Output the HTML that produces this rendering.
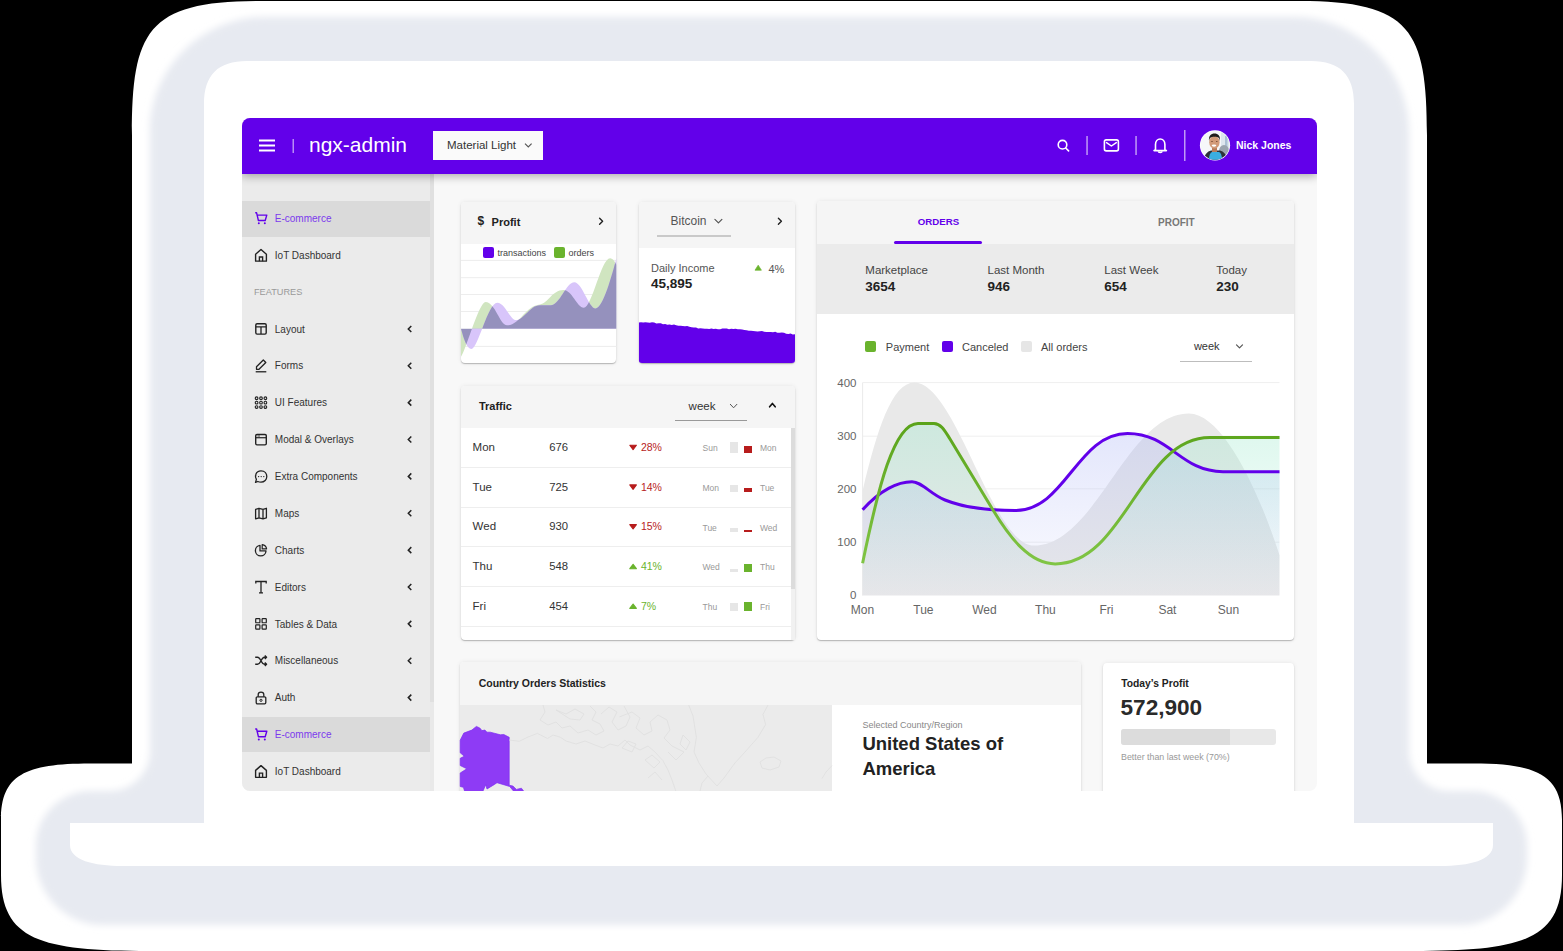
<!DOCTYPE html>
<html><head><meta charset="utf-8">
<style>
html,body{margin:0;padding:0;}
body{width:1563px;height:951px;background:#000;position:relative;overflow:hidden;font-family:"Liberation Sans",sans-serif;}
#frame{position:absolute;left:0;top:0;}
#dash{position:absolute;left:242px;top:118px;width:1075px;height:673px;overflow:hidden;border-radius:8px;background:#f8f8f8;}
#inner{position:absolute;left:-242px;top:-118px;width:1563px;height:951px;}
.t{position:absolute;white-space:nowrap;}
.r{position:absolute;}
</style></head>
<body>
<svg id="frame" width="1563" height="951" viewBox="0 0 1563 951">
  <defs>
    <filter id="blur" x="-10%" y="-10%" width="120%" height="120%"><feGaussianBlur stdDeviation="3.5"/></filter>
  </defs>
  <!-- outer silhouette -->
  <path fill="#fff" d="M132 135 C132 30 148 1 260 1 L1299 1 C1411 1 1427 30 1427 135 L1427 763.5 L1473 763.5 C1538 763.5 1562 775 1562 820 L1562 875 C1562 940 1523 951 1413 951 L150 951 C40 951 1 940 1 875 L1 820 C1 775 25 763.5 90 763.5 L132 763.5 Z"/>
  <!-- glow -->
  <path fill="#e7eaf1" filter="url(#blur)" d="M150 132 C150 68.5 201.5 17 265 17 L1294 17 C1357.5 17 1409 68.5 1409 132 L1409 751 C1409 773.1 1426.9 791 1449 791 L1472 791 C1502.4 791 1527 815.6 1527 846 L1527 858 C1527 895 1497 925 1460 925 L103 925 C66 925 36 895 36 858 L36 846 C36 815.6 60.6 791 91 791 L110 791 C132.1 791 150 773.1 150 751 Z"/>
  <!-- inner bezel -->
  <path fill="#fff" d="M204 104 C204 75 218 61 247 61 L1311 61 C1340 61 1354 75 1354 104 L1354 823 L1493 823 L1493 845 C1493 860 1470 866 1440 866 L123 866 C93 866 70 860 70 845 L70 823 L204 823 Z"/>
</svg>
<div id="dash"><div id="inner">
<div class="r" style="left:242px;top:118px;width:1075.00px;height:56.00px;background:#6200ea;box-shadow:0 2px 9px rgba(0,0,0,.33);z-index:5;"></div>
<svg class="r" style="left:0;top:0;z-index:6" width="1563" height="951"><rect x="259" y="139.5" width="16" height="2" fill="#fff"/><rect x="259" y="144.5" width="16" height="2" fill="#fff"/><rect x="259" y="149.5" width="16" height="2" fill="#fff"/><rect x="292.5" y="139" width="1.5" height="14" fill="rgba(255,255,255,.55)"/><rect x="1086.3" y="136" width="1.5" height="19" fill="rgba(255,255,255,.6)"/><rect x="1135.3" y="136" width="1.5" height="19" fill="rgba(255,255,255,.6)"/><rect x="1184" y="130" width="1.5" height="31" fill="rgba(255,255,255,.6)"/><circle cx="1062.5" cy="144.7" r="4.3" fill="none" stroke="#fff" stroke-width="1.6"/><line x1="1065.7" y1="148" x2="1068.6" y2="150.9" stroke="#fff" stroke-width="1.6" stroke-linecap="round"/><rect x="1104.4" y="139.9" width="14" height="11" rx="1.8" fill="none" stroke="#fff" stroke-width="1.6"/><path d="M1106.5 142.6 L1111.4 146 L1116.3 142.6" fill="none" stroke="#fff" stroke-width="1.5" stroke-linecap="round" stroke-linejoin="round"/><path d="M1155.5 149.5 L1155.5 144.5 C1155.5 141.2 1157.6 139 1160.2 139 C1162.8 139 1164.9 141.2 1164.9 144.5 L1164.9 149.5 L1166.4 150.6 L1154 150.6 Z" fill="none" stroke="#fff" stroke-width="1.6" stroke-linejoin="round"/><path d="M1158.3 151.3 C1158.5 152.8 1161.9 152.8 1162.1 151.3" fill="none" stroke="#fff" stroke-width="1.6"/><circle cx="1215" cy="145.3" r="15.1" fill="#fff"/><clipPath id="av"><circle cx="1215" cy="145.3" r="14.4"/></clipPath><g clip-path="url(#av)"><rect x="1200" y="130" width="30" height="31" fill="#f6f7f9"/><rect x="1221" y="130" width="10" height="31" fill="#dde6ee"/><rect x="1225" y="136" width="2.5" height="12" fill="#a9bfd3"/><ellipse cx="1224" cy="151" rx="5" ry="6" fill="#9aa4ae"/><path d="M1203 162 C1204 155 1207 151.5 1211 150.5 L1220 150.5 C1224 151.5 1227 155 1228 162 Z" fill="#2d3138"/><path d="M1208.5 162 C1209 156 1210 152.5 1212 152 L1219 152 C1221 152.5 1222 156 1222.5 162 Z" fill="#3aaee0"/><rect x="1212" y="146" width="5" height="6" fill="#b77a58"/><ellipse cx="1214.4" cy="142.2" rx="5.2" ry="6.3" fill="#d29a78"/><path d="M1209 141 C1208.6 135.5 1211 133.5 1214.5 133.5 C1218 133.5 1220.4 135.5 1220 141 C1219.5 138 1218.5 136.8 1214.5 136.8 C1210.5 136.8 1209.5 138 1209 141 Z" fill="#1f1c1b"/><ellipse cx="1212" cy="141.5" rx=".8" ry=".5" fill="#6b4330"/><ellipse cx="1216.8" cy="141.5" rx=".8" ry=".5" fill="#6b4330"/><ellipse cx="1214" cy="145.6" rx="2.3" ry="1.1" fill="#fff"/></g></svg>
<div class="t" style="left:309px;top:133.30px;font-size:21px;line-height:23.46px;color:#fff;font-weight:400;z-index:7;">ngx-admin</div>
<div class="r" style="left:433px;top:131px;width:110.00px;height:29.00px;background:#fafafa;z-index:7;"></div>
<div class="t" style="left:447px;top:138.79px;font-size:11.5px;line-height:12.85px;color:#333;font-weight:400;z-index:8;">Material Light</div>
<svg class="r" style="left:0;top:0;z-index:8" width="1563" height="951"><path d="M525 143.6 L528.3 146.9 L531.6 143.6" fill="none" stroke="#555" stroke-width="1.15"/></svg>
<div class="t" style="left:1236px;top:140.10px;font-size:10.5px;line-height:11.73px;color:#fff;font-weight:700;z-index:7;">Nick Jones</div>
<div class="r" style="left:242px;top:174px;width:188.00px;height:617.00px;background:#ebebeb;"></div>
<div class="r" style="left:430px;top:174px;width:4.00px;height:617.00px;background:#e9e9e9;"></div>
<div class="r" style="left:430px;top:174px;width:4.00px;height:528.00px;background:#e0e0e0;"></div>
<div class="r" style="left:242px;top:201px;width:188.00px;height:36.00px;background:#dadada;"></div>
<div class="r" style="left:242px;top:716.6px;width:188.00px;height:35.70px;background:#dadada;"></div>
<div class="t" style="left:274.8px;top:212.95px;font-size:10px;line-height:11.17px;color:#7c3aed;font-weight:400;">E-commerce</div>
<div class="t" style="left:274.8px;top:249.82px;font-size:10px;line-height:11.17px;color:#333;font-weight:400;">IoT Dashboard</div>
<div class="t" style="left:254px;top:287.41px;font-size:9.2px;line-height:10.28px;color:#999;font-weight:400;">FEATURES</div>
<div class="t" style="left:274.8px;top:323.56px;font-size:10px;line-height:11.17px;color:#333;font-weight:400;">Layout</div>
<div class="t" style="left:274.8px;top:360.43px;font-size:10px;line-height:11.17px;color:#333;font-weight:400;">Forms</div>
<div class="t" style="left:274.8px;top:397.30px;font-size:10px;line-height:11.17px;color:#333;font-weight:400;">UI Features</div>
<div class="t" style="left:274.8px;top:434.17px;font-size:10px;line-height:11.17px;color:#333;font-weight:400;">Modal &amp; Overlays</div>
<div class="t" style="left:274.8px;top:471.04px;font-size:10px;line-height:11.17px;color:#333;font-weight:400;">Extra Components</div>
<div class="t" style="left:274.8px;top:507.91px;font-size:10px;line-height:11.17px;color:#333;font-weight:400;">Maps</div>
<div class="t" style="left:274.8px;top:544.78px;font-size:10px;line-height:11.17px;color:#333;font-weight:400;">Charts</div>
<div class="t" style="left:274.8px;top:581.65px;font-size:10px;line-height:11.17px;color:#333;font-weight:400;">Editors</div>
<div class="t" style="left:274.8px;top:618.52px;font-size:10px;line-height:11.17px;color:#333;font-weight:400;">Tables &amp; Data</div>
<div class="t" style="left:274.8px;top:655.39px;font-size:10px;line-height:11.17px;color:#333;font-weight:400;">Miscellaneous</div>
<div class="t" style="left:274.8px;top:692.26px;font-size:10px;line-height:11.17px;color:#333;font-weight:400;">Auth</div>
<div class="t" style="left:274.8px;top:729.13px;font-size:10px;line-height:11.17px;color:#7c3aed;font-weight:400;">E-commerce</div>
<div class="t" style="left:274.8px;top:766.00px;font-size:10px;line-height:11.17px;color:#333;font-weight:400;">IoT Dashboard</div>
<svg class="r" style="left:0;top:0;z-index:2" width="1563" height="951"><g transform="translate(261,218.30)"><path d="M-5.8 -5.5 L-4.4 -5.5 L-2.6 2.2 L4.2 2.2 L5.8 -3.2 L-3.6 -3.2" fill="none" stroke="#6200ea" stroke-width="1.4" stroke-linejoin="round"/><circle cx="-2.2" cy="5" r="1" fill="#6200ea"/><circle cx="3.8" cy="5" r="1" fill="#6200ea"/></g><g transform="translate(261,255.17)"><path d="M-5.4 6 L-5.4 -1 L0 -5.7 L5.4 -1 L5.4 6 Z" fill="none" stroke="#222" stroke-width="1.4" stroke-linejoin="round"/><path d="M-1.6 6 L-1.6 1.8 L1.6 1.8 L1.6 6" fill="none" stroke="#222" stroke-width="1.4"/></g><g transform="translate(261,328.91)"><rect x="-5.2" y="-5.2" width="10.4" height="10.4" rx="1.3" fill="none" stroke="#222" stroke-width="1.4"/><path d="M-5.2 -2 L5.2 -2 M0 -2 L0 5.2" stroke="#222" stroke-width="1.3"/></g><path d="M411.3 325.91 L408.3 328.91 L411.3 331.91" fill="none" stroke="#222" stroke-width="1.5"/><g transform="translate(261,365.78)"><path d="M-4.5 3.5 L-4.5 1 L2.3 -5.8 L4.8 -3.3 L-2 3.5 Z" fill="none" stroke="#222" stroke-width="1.3" stroke-linejoin="round"/><path d="M-5.3 6 L5.3 6" stroke="#222" stroke-width="1.3"/></g><path d="M411.3 362.78 L408.3 365.78 L411.3 368.78" fill="none" stroke="#222" stroke-width="1.5"/><g transform="translate(261,402.65)"><circle cx="-4.4" cy="-4.4" r="1.35" fill="none" stroke="#222" stroke-width="1.1"/><circle cx="-4.4" cy="0" r="1.35" fill="none" stroke="#222" stroke-width="1.1"/><circle cx="-4.4" cy="4.4" r="1.35" fill="none" stroke="#222" stroke-width="1.1"/><circle cx="0" cy="-4.4" r="1.35" fill="none" stroke="#222" stroke-width="1.1"/><circle cx="0" cy="0" r="1.35" fill="none" stroke="#222" stroke-width="1.1"/><circle cx="0" cy="4.4" r="1.35" fill="none" stroke="#222" stroke-width="1.1"/><circle cx="4.4" cy="-4.4" r="1.35" fill="none" stroke="#222" stroke-width="1.1"/><circle cx="4.4" cy="0" r="1.35" fill="none" stroke="#222" stroke-width="1.1"/><circle cx="4.4" cy="4.4" r="1.35" fill="none" stroke="#222" stroke-width="1.1"/></g><path d="M411.3 399.65 L408.3 402.65 L411.3 405.65" fill="none" stroke="#222" stroke-width="1.5"/><g transform="translate(261,439.52)"><rect x="-5.3" y="-5" width="10.6" height="10.4" rx="1.3" fill="none" stroke="#222" stroke-width="1.4"/><path d="M-5.3 -1.8 L5.3 -1.8" stroke="#222" stroke-width="1.2"/><path d="M-3.5 -3.5 L-1 -3.5" stroke="#222" stroke-width="0.8"/></g><path d="M411.3 436.52 L408.3 439.52 L411.3 442.52" fill="none" stroke="#222" stroke-width="1.5"/><g transform="translate(261,476.39)"><path d="M-5.5 6 L-4.6 3 C-6.4 0 -5.5 -5.6 0 -5.6 C4 -5.6 5.8 -2.8 5.8 0.2 C5.8 3.2 3.4 5.8 0 5.8 C-1.5 5.8 -2.5 5.5 -3.2 5.1 Z" fill="none" stroke="#222" stroke-width="1.3" stroke-linejoin="round"/><circle cx="-2.4" cy="0.2" r=".7" fill="#222"/><circle cx="0.2" cy="0.2" r=".7" fill="#222"/><circle cx="2.8" cy="0.2" r=".7" fill="#222"/></g><path d="M411.3 473.39 L408.3 476.39 L411.3 479.39" fill="none" stroke="#222" stroke-width="1.5"/><g transform="translate(261,513.26)"><path d="M-5.4 -4 L-2 -5 L2 -4 L5.4 -5 L5.4 4.5 L2 5.5 L-2 4.5 L-5.4 5.5 Z M-2 -5 L-2 4.5 M2 -4 L2 5.5" fill="none" stroke="#222" stroke-width="1.3" stroke-linejoin="round"/></g><path d="M411.3 510.26 L408.3 513.26 L411.3 516.26" fill="none" stroke="#222" stroke-width="1.5"/><g transform="translate(261,550.13)"><path d="M-1 -4.8 A5.3 5.3 0 1 0 5 0.8 L-1 0.8 Z" fill="none" stroke="#222" stroke-width="1.3" stroke-linejoin="round"/><path d="M1.2 -5.6 A5 5 0 0 1 5.6 -1.2 L1.2 -1.2 Z" fill="none" stroke="#222" stroke-width="1.2" stroke-linejoin="round"/></g><path d="M411.3 547.13 L408.3 550.13 L411.3 553.13" fill="none" stroke="#222" stroke-width="1.5"/><g transform="translate(261,587.00)"><path d="M-5.2 -3.5 L-5.2 -5.5 L5.2 -5.5 L5.2 -3.5 M0 -5.5 L0 5.8 M-2 5.8 L2 5.8" fill="none" stroke="#222" stroke-width="1.3"/></g><path d="M411.3 584.00 L408.3 587.00 L411.3 590.00" fill="none" stroke="#222" stroke-width="1.5"/><g transform="translate(261,623.87)"><rect x="-5.3" y="-5.3" width="4.2" height="4.2" rx=".6" fill="none" stroke="#222" stroke-width="1.2"/><rect x="1.1" y="-5.3" width="4.2" height="4.2" rx=".6" fill="none" stroke="#222" stroke-width="1.2"/><rect x="-5.3" y="1.1" width="4.2" height="4.2" rx=".6" fill="none" stroke="#222" stroke-width="1.2"/><rect x="1.1" y="1.1" width="4.2" height="4.2" rx=".6" fill="none" stroke="#222" stroke-width="1.2"/></g><path d="M411.3 620.87 L408.3 623.87 L411.3 626.87" fill="none" stroke="#222" stroke-width="1.5"/><g transform="translate(261,660.74)"><path d="M-5.8 -3.5 L-3.5 -3.5 C0 -3.5 0 3.5 3.5 3.5 L5.5 3.5 M-5.8 3.5 L-3.5 3.5 C0 3.5 0 -3.5 3.5 -3.5 L5.5 -3.5 M3.8 -5.2 L5.6 -3.5 L3.8 -1.8 M3.8 1.8 L5.6 3.5 L3.8 5.2" fill="none" stroke="#222" stroke-width="1.3" stroke-linejoin="round"/></g><path d="M411.3 657.74 L408.3 660.74 L411.3 663.74" fill="none" stroke="#222" stroke-width="1.5"/><g transform="translate(261,697.61)"><rect x="-4.8" y="-0.8" width="9.6" height="7" rx="1.2" fill="none" stroke="#222" stroke-width="1.3"/><path d="M-2.8 -0.8 L-2.8 -3 C-2.8 -6.2 2.8 -6.2 2.8 -3 L2.8 -0.8" fill="none" stroke="#222" stroke-width="1.3"/><circle cx="0" cy="2.7" r="1.1" fill="none" stroke="#222" stroke-width="1"/></g><path d="M411.3 694.61 L408.3 697.61 L411.3 700.61" fill="none" stroke="#222" stroke-width="1.5"/><g transform="translate(261,734.48)"><path d="M-5.8 -5.5 L-4.4 -5.5 L-2.6 2.2 L4.2 2.2 L5.8 -3.2 L-3.6 -3.2" fill="none" stroke="#6200ea" stroke-width="1.4" stroke-linejoin="round"/><circle cx="-2.2" cy="5" r="1" fill="#6200ea"/><circle cx="3.8" cy="5" r="1" fill="#6200ea"/></g><g transform="translate(261,771.35)"><path d="M-5.4 6 L-5.4 -1 L0 -5.7 L5.4 -1 L5.4 6 Z" fill="none" stroke="#222" stroke-width="1.4" stroke-linejoin="round"/><path d="M-1.6 6 L-1.6 1.8 L1.6 1.8 L1.6 6" fill="none" stroke="#222" stroke-width="1.4"/></g></svg>
<div class="r" style="left:460.5px;top:201.5px;width:155.80px;height:161.50px;background:#fff;box-shadow:0 1px 1.2px rgba(0,0,0,.26), 0 0 5px rgba(0,0,0,.07);border-radius:4px;overflow:hidden;"></div>
<div class="r" style="left:460.5px;top:201.5px;width:155.80px;height:42.20px;background:#f5f5f5;border-radius:4px 4px 0 0;"></div>
<div class="t" style="left:477.5px;top:215.14px;font-size:12px;line-height:13.40px;color:#222;font-weight:700;">$</div>
<div class="t" style="left:491.6px;top:216.04px;font-size:11px;line-height:12.29px;color:#222;font-weight:700;">Profit</div>
<div class="t" style="left:497.5px;top:247.66px;font-size:9px;line-height:10.05px;color:#444;font-weight:400;">transactions</div>
<div class="t" style="left:568.5px;top:247.66px;font-size:9px;line-height:10.05px;color:#444;font-weight:400;">orders</div>
<div class="r" style="left:638.8px;top:201.5px;width:156.20px;height:161.50px;background:#fff;box-shadow:0 1px 1.2px rgba(0,0,0,.26), 0 0 5px rgba(0,0,0,.07);border-radius:4px;overflow:hidden;"></div>
<div class="r" style="left:638.8px;top:201.5px;width:156.20px;height:46.50px;background:#f5f5f5;border-radius:4px 4px 0 0;"></div>
<div class="t" style="left:670.5px;top:214.54px;font-size:12px;line-height:13.40px;color:#555;font-weight:400;">Bitcoin</div>
<div class="r" style="left:657px;top:235px;width:74.40px;height:1.60px;background:#c9c9c9;"></div>
<div class="t" style="left:651px;top:262.05px;font-size:11px;line-height:12.29px;color:#555;font-weight:400;">Daily Income</div>
<div class="t" style="left:651px;top:276.28px;font-size:13.5px;line-height:15.08px;color:#222;font-weight:700;">45,895</div>
<div class="t" style="left:768.5px;top:263.25px;font-size:11px;line-height:12.29px;color:#555;font-weight:400;">4%</div>
<div class="r" style="left:460.7px;top:386px;width:334.30px;height:253.60px;background:#fff;box-shadow:0 1px 1.2px rgba(0,0,0,.26), 0 0 5px rgba(0,0,0,.07);border-radius:4px;overflow:hidden;"></div>
<div class="r" style="left:460.7px;top:386px;width:334.30px;height:41.60px;background:#f5f5f5;border-radius:4px 4px 0 0;"></div>
<div class="t" style="left:478.9px;top:400.25px;font-size:11px;line-height:12.29px;color:#222;font-weight:700;">Traffic</div>
<div class="t" style="left:688.6px;top:399.59px;font-size:11.5px;line-height:12.85px;color:#333;font-weight:400;">week</div>
<div class="r" style="left:675px;top:420px;width:72.00px;height:1.00px;background:#999;"></div>
<div class="t" style="left:472.6px;top:440.89px;font-size:11.5px;line-height:12.85px;color:#333;font-weight:400;">Mon</div>
<div class="t" style="left:549.2px;top:441.07px;font-size:11.3px;line-height:12.62px;color:#333;font-weight:400;">676</div>
<div class="t" style="left:640.9px;top:441.80px;font-size:10.5px;line-height:11.73px;color:#b71c1c;font-weight:400;">28%</div>
<div class="t" style="left:702.5px;top:444.11px;font-size:8.5px;line-height:9.49px;color:#999;font-weight:400;">Sun</div>
<div class="t" style="left:760px;top:444.11px;font-size:8.5px;line-height:9.49px;color:#999;font-weight:400;">Mon</div>
<div class="r" style="left:730px;top:441.6px;width:8.00px;height:11.00px;background:#e6e6e6;"></div>
<div class="r" style="left:744px;top:445.90000000000003px;width:8.00px;height:6.70px;background:#b71c1c;"></div>
<div class="r" style="left:460.7px;top:467.0px;width:330.30px;height:1.00px;background:#eeeeee;"></div>
<div class="t" style="left:472.6px;top:480.59px;font-size:11.5px;line-height:12.85px;color:#333;font-weight:400;">Tue</div>
<div class="t" style="left:549.2px;top:480.77px;font-size:11.3px;line-height:12.62px;color:#333;font-weight:400;">725</div>
<div class="t" style="left:640.9px;top:481.50px;font-size:10.5px;line-height:11.73px;color:#b71c1c;font-weight:400;">14%</div>
<div class="t" style="left:702.5px;top:483.81px;font-size:8.5px;line-height:9.49px;color:#999;font-weight:400;">Mon</div>
<div class="t" style="left:760px;top:483.81px;font-size:8.5px;line-height:9.49px;color:#999;font-weight:400;">Tue</div>
<div class="r" style="left:730px;top:485.1px;width:8.00px;height:7.20px;background:#e6e6e6;"></div>
<div class="r" style="left:744px;top:488.0px;width:8.00px;height:4.30px;background:#b71c1c;"></div>
<div class="r" style="left:460.7px;top:506.7px;width:330.30px;height:1.00px;background:#eeeeee;"></div>
<div class="t" style="left:472.6px;top:520.29px;font-size:11.5px;line-height:12.85px;color:#333;font-weight:400;">Wed</div>
<div class="t" style="left:549.2px;top:520.47px;font-size:11.3px;line-height:12.62px;color:#333;font-weight:400;">930</div>
<div class="t" style="left:640.9px;top:521.20px;font-size:10.5px;line-height:11.73px;color:#b71c1c;font-weight:400;">15%</div>
<div class="t" style="left:702.5px;top:523.51px;font-size:8.5px;line-height:9.49px;color:#999;font-weight:400;">Tue</div>
<div class="t" style="left:760px;top:523.51px;font-size:8.5px;line-height:9.49px;color:#999;font-weight:400;">Wed</div>
<div class="r" style="left:730px;top:527.7px;width:8.00px;height:4.30px;background:#e6e6e6;"></div>
<div class="r" style="left:744px;top:530.0px;width:8.00px;height:2.00px;background:#b71c1c;"></div>
<div class="r" style="left:460.7px;top:546.4000000000001px;width:330.30px;height:1.00px;background:#eeeeee;"></div>
<div class="t" style="left:472.6px;top:559.99px;font-size:11.5px;line-height:12.85px;color:#333;font-weight:400;">Thu</div>
<div class="t" style="left:549.2px;top:560.17px;font-size:11.3px;line-height:12.62px;color:#333;font-weight:400;">548</div>
<div class="t" style="left:640.9px;top:560.90px;font-size:10.5px;line-height:11.73px;color:#6ab32d;font-weight:400;">41%</div>
<div class="t" style="left:702.5px;top:563.21px;font-size:8.5px;line-height:9.49px;color:#999;font-weight:400;">Wed</div>
<div class="t" style="left:760px;top:563.21px;font-size:8.5px;line-height:9.49px;color:#999;font-weight:400;">Thu</div>
<div class="r" style="left:730px;top:569.4px;width:8.00px;height:2.30px;background:#e6e6e6;"></div>
<div class="r" style="left:744px;top:563.5999999999999px;width:8.00px;height:8.10px;background:#6ab32d;"></div>
<div class="r" style="left:460.7px;top:586.1px;width:330.30px;height:1.00px;background:#eeeeee;"></div>
<div class="t" style="left:472.6px;top:599.69px;font-size:11.5px;line-height:12.85px;color:#333;font-weight:400;">Fri</div>
<div class="t" style="left:549.2px;top:599.87px;font-size:11.3px;line-height:12.62px;color:#333;font-weight:400;">454</div>
<div class="t" style="left:640.9px;top:600.60px;font-size:10.5px;line-height:11.73px;color:#6ab32d;font-weight:400;">7%</div>
<div class="t" style="left:702.5px;top:602.91px;font-size:8.5px;line-height:9.49px;color:#999;font-weight:400;">Thu</div>
<div class="t" style="left:760px;top:602.91px;font-size:8.5px;line-height:9.49px;color:#999;font-weight:400;">Fri</div>
<div class="r" style="left:730px;top:603.4px;width:8.00px;height:8.00px;background:#e6e6e6;"></div>
<div class="r" style="left:744px;top:601.9px;width:8.00px;height:9.50px;background:#6ab32d;"></div>
<div class="r" style="left:460.7px;top:625.8000000000001px;width:330.30px;height:1.00px;background:#eeeeee;"></div>
<div class="r" style="left:791px;top:427.6px;width:4.00px;height:212.00px;background:#f1f1f1;"></div>
<div class="r" style="left:791px;top:427.6px;width:4.00px;height:161.40px;background:#dcdcdc;"></div>
<div class="r" style="left:817px;top:200.6px;width:477.30px;height:439.40px;background:#fff;box-shadow:0 1px 1.2px rgba(0,0,0,.26), 0 0 5px rgba(0,0,0,.07);border-radius:4px;overflow:hidden;"></div>
<div class="r" style="left:817px;top:200.6px;width:477.30px;height:43.10px;background:#f5f5f5;border-radius:4px 4px 0 0;"></div>
<div class="t" style="left:917.8px;top:216.92px;font-size:9.7px;line-height:10.83px;color:#6200ea;font-weight:700;">ORDERS</div>
<div class="r" style="left:893.8px;top:241px;width:88.00px;height:3.20px;background:#6200ea;border-radius:2px;"></div>
<div class="t" style="left:1158px;top:216.65px;font-size:10px;line-height:11.17px;color:#777;font-weight:700;">PROFIT</div>
<div class="r" style="left:817px;top:243.7px;width:477.30px;height:70.30px;background:#ebebeb;"></div>
<div class="t" style="left:865.3px;top:263.79px;font-size:11.5px;line-height:12.85px;color:#444;font-weight:400;">Marketplace</div>
<div class="t" style="left:865.3px;top:279.18px;font-size:13.5px;line-height:15.08px;color:#222;font-weight:700;">3654</div>
<div class="t" style="left:987.5px;top:263.79px;font-size:11.5px;line-height:12.85px;color:#444;font-weight:400;">Last Month</div>
<div class="t" style="left:987.5px;top:279.18px;font-size:13.5px;line-height:15.08px;color:#222;font-weight:700;">946</div>
<div class="t" style="left:1104.3px;top:263.79px;font-size:11.5px;line-height:12.85px;color:#444;font-weight:400;">Last Week</div>
<div class="t" style="left:1104.3px;top:279.18px;font-size:13.5px;line-height:15.08px;color:#222;font-weight:700;">654</div>
<div class="t" style="left:1216.3px;top:263.79px;font-size:11.5px;line-height:12.85px;color:#444;font-weight:400;">Today</div>
<div class="t" style="left:1216.3px;top:279.18px;font-size:13.5px;line-height:15.08px;color:#222;font-weight:700;">230</div>
<div class="r" style="left:865.3px;top:341px;width:11.20px;height:11.20px;background:#6ab32d;border-radius:2px;"></div>
<div class="t" style="left:885.8px;top:340.65px;font-size:11px;line-height:12.29px;color:#444;font-weight:400;">Payment</div>
<div class="r" style="left:941.8px;top:341px;width:11.20px;height:11.20px;background:#6200ea;border-radius:2px;"></div>
<div class="t" style="left:962px;top:340.65px;font-size:11px;line-height:12.29px;color:#444;font-weight:400;">Canceled</div>
<div class="r" style="left:1020.5px;top:341px;width:11.20px;height:11.20px;background:#e6e6e6;border-radius:2px;"></div>
<div class="t" style="left:1041px;top:340.65px;font-size:11px;line-height:12.29px;color:#444;font-weight:400;">All orders</div>
<div class="t" style="left:1193.9px;top:340.25px;font-size:11px;line-height:12.29px;color:#333;font-weight:400;">week</div>
<div class="r" style="left:1180.4px;top:360.5px;width:72.00px;height:1.00px;background:#bdbdbd;"></div>
<div class="t" style="left:856.5px;top:376.79px;font-size:11.5px;line-height:12.85px;color:#666;font-weight:400;transform:translateX(-100%);">400</div>
<div class="t" style="left:856.5px;top:429.99px;font-size:11.5px;line-height:12.85px;color:#666;font-weight:400;transform:translateX(-100%);">300</div>
<div class="t" style="left:856.5px;top:482.79px;font-size:11.5px;line-height:12.85px;color:#666;font-weight:400;transform:translateX(-100%);">200</div>
<div class="t" style="left:856.5px;top:535.89px;font-size:11.5px;line-height:12.85px;color:#666;font-weight:400;transform:translateX(-100%);">100</div>
<div class="t" style="left:856.5px;top:588.79px;font-size:11.5px;line-height:12.85px;color:#666;font-weight:400;transform:translateX(-100%);">0</div>
<div class="t" style="left:862.4px;top:603.74px;font-size:12px;line-height:13.40px;color:#666;font-weight:400;transform:translateX(-50%);">Mon</div>
<div class="t" style="left:923.4px;top:603.74px;font-size:12px;line-height:13.40px;color:#666;font-weight:400;transform:translateX(-50%);">Tue</div>
<div class="t" style="left:984.4px;top:603.74px;font-size:12px;line-height:13.40px;color:#666;font-weight:400;transform:translateX(-50%);">Wed</div>
<div class="t" style="left:1045.4px;top:603.74px;font-size:12px;line-height:13.40px;color:#666;font-weight:400;transform:translateX(-50%);">Thu</div>
<div class="t" style="left:1106.4px;top:603.74px;font-size:12px;line-height:13.40px;color:#666;font-weight:400;transform:translateX(-50%);">Fri</div>
<div class="t" style="left:1167.4px;top:603.74px;font-size:12px;line-height:13.40px;color:#666;font-weight:400;transform:translateX(-50%);">Sat</div>
<div class="t" style="left:1228.4px;top:603.74px;font-size:12px;line-height:13.40px;color:#666;font-weight:400;transform:translateX(-50%);">Sun</div>
<svg class="r" style="left:0;top:0;z-index:2" width="1563" height="951"><defs><linearGradient id="gp" gradientUnits="userSpaceOnUse" x1="0" y1="433" x2="0" y2="595.5"><stop offset="0" stop-color="rgb(168,178,245)" stop-opacity=".32"/><stop offset="1" stop-color="rgb(168,178,245)" stop-opacity=".04"/></linearGradient><linearGradient id="gm" gradientUnits="userSpaceOnUse" x1="0" y1="423" x2="0" y2="595.5"><stop offset="0" stop-color="rgb(152,232,202)" stop-opacity=".34"/><stop offset="1" stop-color="rgb(152,232,202)" stop-opacity="0"/></linearGradient><linearGradient id="gl" gradientUnits="userSpaceOnUse" x1="0" y1="423" x2="0" y2="565"><stop offset="0" stop-color="#5aa31a"/><stop offset="1" stop-color="#80c545"/></linearGradient></defs><rect x="862.6" y="382.1" width="416.9" height="1" fill="#efefef"/><rect x="862.6" y="435.7" width="416.9" height="1" fill="#efefef"/><rect x="862.6" y="488.3" width="416.9" height="1" fill="#efefef"/><rect x="862.6" y="541.7" width="416.9" height="1" fill="#efefef"/><rect x="862.1" y="382.6" width="1" height="212.89999999999998" fill="#eaeaea"/><path d="M862.6 490.9 C877 430 892 382.6 914.4 382.6 C956.3 382.6 992.1 545.6 1034 545.6 C1095.9 545.6 1126.9 413.4 1188.8 413.4 C1225 413.4 1262 500 1279.5 555.3 L1279.5 595.5 L862.6 595.5 Z" fill="#e9e9e9"/><path d="M862.6 509.8 C880 490 898 481.7 912 481.7 C922 481.7 930 494 945 500 C965 508 990 510.6 1015 510.6 C1065.7 510.6 1076.9 433.5 1127.6 433.5 C1170.5 433.5 1180.1 471.7 1223 471.7 L1279.5 471.7 L1279.5 595.5 L862.6 595.5 Z" fill="url(#gp)"/><path d="M862.6 563.2 C878 488 894 423.4 918 423.4 L934 423.4 C941 423.4 945 431 950 439 L993 510 C1010 538 1030 563.9 1055.2 563.9 C1124.8 563.9 1140.2 437.6 1209.8 437.6 L1279.5 437.6 L1279.5 595.5 L862.6 595.5 Z" fill="url(#gm)"/><path d="M862.6 509.8 C880 490 898 481.7 912 481.7 C922 481.7 930 494 945 500 C965 508 990 510.6 1015 510.6 C1065.7 510.6 1076.9 433.5 1127.6 433.5 C1170.5 433.5 1180.1 471.7 1223 471.7 L1279.5 471.7" fill="none" stroke="#6200ea" stroke-width="3"/><path d="M862.6 563.2 C878 488 894 423.4 918 423.4 L934 423.4 C941 423.4 945 431 950 439 L993 510 C1010 538 1030 563.9 1055.2 563.9 C1124.8 563.9 1140.2 437.6 1209.8 437.6 L1279.5 437.6" fill="none" stroke="url(#gl)" stroke-width="3"/></svg>
<div class="r" style="left:460.2px;top:662.2px;width:620.60px;height:137.80px;background:#fff;box-shadow:0 1px 1.2px rgba(0,0,0,.26), 0 0 5px rgba(0,0,0,.07);border-radius:4px;overflow:hidden;"></div>
<div class="r" style="left:460.2px;top:662.2px;width:620.60px;height:43.00px;background:#f5f5f5;border-radius:4px 4px 0 0;"></div>
<div class="t" style="left:478.7px;top:677.80px;font-size:10.5px;line-height:11.73px;color:#222;font-weight:700;">Country Orders Statistics</div>
<div class="r" style="left:460.2px;top:705.2px;width:371.80px;height:94.80px;background:#ebebeb;"></div>
<div class="t" style="left:862.4px;top:720.46px;font-size:9px;line-height:10.05px;color:#888;font-weight:400;">Selected Country/Region</div>
<div class="t" style="left:862.4px;top:734.46px;font-size:18.5px;line-height:20.66px;color:#222;font-weight:700;">United States of</div>
<div class="t" style="left:862.4px;top:758.86px;font-size:18.5px;line-height:20.66px;color:#222;font-weight:700;">America</div>
<div class="r" style="left:1103.3px;top:663px;width:190.70px;height:137.00px;background:#fff;box-shadow:0 1px 1.2px rgba(0,0,0,.26), 0 0 5px rgba(0,0,0,.07);border-radius:4px;"></div>
<div class="t" style="left:1121.2px;top:677.98px;font-size:10.3px;line-height:11.51px;color:#222;font-weight:700;">Today&#8217;s Profit</div>
<div class="t" style="left:1120.5px;top:694.95px;font-size:22.6px;line-height:25.24px;color:#2a2a2a;font-weight:700;">572,900</div>
<div class="r" style="left:1121px;top:728.7px;width:155.30px;height:16.10px;background:#e8e8e8;border-radius:3px;"></div>
<div class="r" style="left:1121px;top:728.7px;width:109.00px;height:16.10px;background:#dcdcdc;border-radius:3px 0 0 3px;"></div>
<div class="t" style="left:1121px;top:752.99px;font-size:8.85px;line-height:9.89px;color:#999;font-weight:400;">Better than last week (70%)</div>
<svg class="r" style="left:0;top:0;z-index:2" width="1563" height="951"><defs><clipPath id="gclip"><path d="M461 356.7 C466 350 479 302 485.6 302 C495 302 500 325.3 507 325.3 C520 325.3 525 306 540 304.5 C548 303.7 552 290.1 563.6 290.1 C572 290.1 577 307.8 583.8 307.8 C592 307.8 601 258.2 610.1 258.2 C613 258.2 615 262 616.4 264.7 L616.4 328.8 L461 328.8 Z"/></clipPath></defs><rect x="461" y="259.9" width="155.4" height="1" fill="#ededed"/><rect x="461" y="277.2" width="155.4" height="1" fill="#ededed"/><rect x="461" y="294.0" width="155.4" height="1" fill="#ededed"/><rect x="461" y="311.0" width="155.4" height="1" fill="#ededed"/><rect x="461" y="345.9" width="155.4" height="1" fill="#ededed"/><path d="M461 356.7 C466 350 479 302 485.6 302 C495 302 500 325.3 507 325.3 C520 325.3 525 306 540 304.5 C548 303.7 552 290.1 563.6 290.1 C572 290.1 577 307.8 583.8 307.8 C592 307.8 601 258.2 610.1 258.2 C613 258.2 615 262 616.4 264.7 L616.4 328.8 L461 328.8 Z" fill="#d0e5c0"/><path d="M461 328.8 C464 340 467 349 471.4 349 C478 349 488 302.8 497.2 302.8 C505 302.8 510 320 516 320 C524 320 530 305.2 540 305.2 L550.7 305.2 C560 305.2 566 282.3 574.4 282.3 C582 282.3 589 308.6 595.5 308.6 C603 308.6 612 275 616.4 258.6 L616.4 328.8 L461 328.8 Z" fill="#d8c5fa"/><path d="M461 328.8 C464 340 467 349 471.4 349 C478 349 488 302.8 497.2 302.8 C505 302.8 510 320 516 320 C524 320 530 305.2 540 305.2 L550.7 305.2 C560 305.2 566 282.3 574.4 282.3 C582 282.3 589 308.6 595.5 308.6 C603 308.6 612 275 616.4 258.6 L616.4 328.8 L461 328.8 Z" fill="#9591bd" clip-path="url(#gclip)"/><rect x="483" y="247" width="11" height="11" rx="2" fill="#6200ea"/><rect x="554" y="247" width="11" height="11" rx="2" fill="#6ab32d"/><path d="M599.6 218.3 L602.6 221.3 L599.6 224.3" fill="none" stroke-linecap="round" stroke-linejoin="round" stroke="#222" stroke-width="1.4"/><path d="M778.4 218.3 L781.4 221.3 L778.4 224.3" fill="none" stroke-linecap="round" stroke-linejoin="round" stroke="#222" stroke-width="1.4"/><path d="M714.9 219.4 L718.4 222.9 L721.9 219.4" fill="none" stroke-linecap="round" stroke-linejoin="round" stroke="#555" stroke-width="1.2"/><path d="M755 270.2 L758.2 265.2 L761.4 270.2 Z" fill="#6ab32d" stroke="#6ab32d" stroke-width=".7" stroke-linejoin="round"/><clipPath id="bclip"><rect x="638.8" y="201.5" width="156.2" height="161.5" rx="3"/></clipPath><path d="M638.8 363 L638.8 322.6 L641.0 322.23 L643.2 322.42 L645.4 322.13 L647.6 322.40 L649.8 322.65 L652.0 322.31 L654.2 322.48 L656.4 323.52 L658.6 323.17 L660.8 323.36 L663.0 324.35 L665.2 324.05 L667.4 324.64 L669.6 324.50 L671.8 324.89 L674.0 324.62 L676.2 325.33 L678.4 325.79 L680.6 325.67 L682.8 326.11 L685.0 326.26 L687.2 325.88 L689.4 326.86 L691.6 327.28 L693.8 327.57 L696.0 327.50 L698.2 328.43 L700.4 328.13 L702.6 328.47 L704.8 328.72 L707.0 328.65 L709.2 328.95 L711.4 328.52 L713.6 329.02 L715.8 328.74 L718.0 329.24 L720.2 329.18 L722.4 328.40 L724.6 328.44 L726.8 328.52 L729.0 329.27 L731.2 328.74 L733.4 328.95 L735.6 328.83 L737.8 329.25 L740.0 329.34 L742.2 329.52 L744.4 329.97 L746.6 330.18 L748.8 330.71 L751.0 330.70 L753.2 331.09 L755.4 331.17 L757.6 331.45 L759.8 331.28 L762.0 330.92 L764.2 331.77 L766.4 332.02 L768.6 332.11 L770.8 331.93 L773.0 332.22 L775.2 331.87 L777.4 332.64 L779.6 332.65 L781.8 332.62 L784.0 332.66 L786.2 333.71 L788.4 334.11 L790.6 333.47 L792.8 334.44 L795.0 334.31 L795 363 Z" fill="#6200ea" clip-path="url(#bclip)"/><path d="M730.3 404.3 L733.6 407.8 L736.9 404.3" fill="none" stroke-linecap="round" stroke-linejoin="round" stroke="#555" stroke-width="1"/><path d="M769.6 406.8 L772.4 403.4 L775.2 406.8" fill="none" stroke-linecap="round" stroke-linejoin="round" stroke="#111" stroke-width="1.6"/><path d="M629.8 445.2 L633.1 449.6 L636.4 445.2 Z" fill="#b71c1c" stroke="#b71c1c" stroke-width="1.1" stroke-linejoin="round"/><path d="M629.8 484.9 L633.1 489.3 L636.4 484.9 Z" fill="#b71c1c" stroke="#b71c1c" stroke-width="1.1" stroke-linejoin="round"/><path d="M629.8 524.6 L633.1 529.0 L636.4 524.6 Z" fill="#b71c1c" stroke="#b71c1c" stroke-width="1.1" stroke-linejoin="round"/><path d="M629.8 568.7 L633.1 564.3 L636.4 568.7 Z" fill="#6ab32d" stroke="#6ab32d" stroke-width="1.1" stroke-linejoin="round"/><path d="M629.8 608.4 L633.1 604.0 L636.4 608.4 Z" fill="#6ab32d" stroke="#6ab32d" stroke-width="1.1" stroke-linejoin="round"/><path d="M1236.5 344.8 L1239.5 347.8 L1242.5 344.8" fill="none" stroke-linecap="round" stroke-linejoin="round" stroke="#555" stroke-width="1.2"/><path d="M460.2 740.2 L463.8 733.1 L471.8 730.1 L476.4 726.4 L479.8 728 L481.9 730.6 L484.9 730.1 L487 732.2 L490.3 732.2 L500.4 734.8 L503.8 734.5 L509.2 737.3 L509.2 785.2 L513 786.1 L516.4 789.4 L521.4 788.2 L524 791.5 L513.9 791.5 L509.7 786.5 L497 782.7 L494.5 784.4 L487 789 L485.7 784.8 L482.8 791.5 L464.7 791.5 L463.4 787.3 L460.2 786.5 L460.2 773 L466.8 768.8 L460.2 765.5 L460.2 758.3 L464.3 756.2 L460.2 752.8 Z" fill="#8e3bf5" stroke="#7d2cf2" stroke-width=".7" stroke-linejoin="round"/><path d="M509.2 740 L519.3 741.3 L528 737 L537.4 733.4 L547.5 738.5 L553 735 L560.3 737.2 L566 741 L576 744 L585 741 L595 745 L603 748 L610 744 L618 746 L625 740 L630 745 L640 750 L648 746 L655 752 L662.8 760.5 L668 770 L672 780 L675.8 791" fill="none" stroke="#e0e0e0" stroke-width="0.9" stroke-linejoin="round"/><path d="M543 705 L545 712 L540 720 L548 725 L556 722 L562 728 L570 726 L578 733 L588 730 L596 735 L604 731 L600 724 L592 720 L596 712 L590 706" fill="none" stroke="#e0e0e0" stroke-width="0.9" stroke-linejoin="round"/><path d="M556 710 L566 714 L575 709 L584 714 L580 720 L570 719 Z" fill="none" stroke="#e0e0e0" stroke-width="0.9" stroke-linejoin="round"/><path d="M601 714 L609 707 L617 712 L612 722 L618 730 L626 726 L630 717 L624 706" fill="none" stroke="#e0e0e0" stroke-width="0.9" stroke-linejoin="round"/><path d="M619.5 716.9 L632 712 L640 718 L636 728 L644 735 L652 731 L650 722 L658 715 L667 720 L670 730 L664 738 L672 746 L684 752 L676 760 L668 752" fill="none" stroke="#e0e0e0" stroke-width="0.9" stroke-linejoin="round"/><path d="M622 748 L628 741 L636 744 L632 752 Z M645 760 L652 755 L660 762 L654 768 Z M648 778 L655 772 L662 780" fill="none" stroke="#e0e0e0" stroke-width="0.9" stroke-linejoin="round"/><path d="M688.7 705 L693 716 L696.4 737.4 L694 752 L699 763 L706 774 L717 786 L724 778 L734.9 763 L745 752 L757.9 737.4 L765.6 724.6 L763 714.4 L768 705" fill="none" stroke="#e0e0e0" stroke-width="0.9" stroke-linejoin="round"/><path d="M683 735 L690 742 L686 750 L680 744 Z" fill="none" stroke="#e0e0e0" stroke-width="0.9" stroke-linejoin="round"/><path d="M760 762 L766 758 L774 757 L781 761 L779 767 L770 770 L762 768 Z" fill="none" stroke="#e0e0e0" stroke-width="0.9" stroke-linejoin="round"/><path d="M822 778.5 L826 772 L832 765.6" fill="none" stroke="#e0e0e0" stroke-width="0.9" stroke-linejoin="round"/><path d="M700 791 L702 783 L708 776" fill="none" stroke="#e0e0e0" stroke-width="0.9" stroke-linejoin="round"/></svg>
</div></div>
</body></html>
